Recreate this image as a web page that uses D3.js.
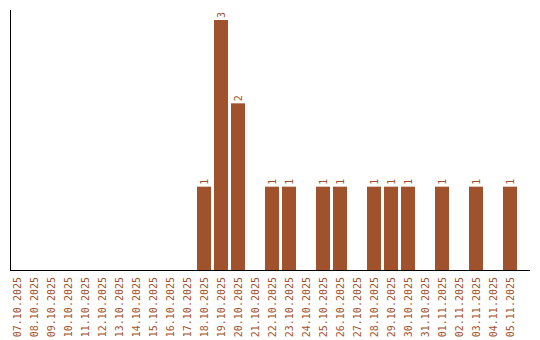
<!DOCTYPE html>
<html>
<head>
<meta charset="utf-8">
<script src="https://cdn.jsdelivr.net/npm/d3@7"></script>
<style>
  body { margin: 0; background: #fff; }
  text { font-family: "DejaVu Sans Mono", monospace; font-size: 10px; fill: #a0522d; }
</style>
</head>
<body>
<div id="chart"></div>
<script>
let dates = ["07.10.2025", "08.10.2025", "09.10.2025", "10.10.2025", "11.10.2025", "12.10.2025",
    "13.10.2025", "14.10.2025", "15.10.2025", "16.10.2025", "17.10.2025", "18.10.2025",
    "19.10.2025", "20.10.2025", "21.10.2025", "22.10.2025", "23.10.2025", "24.10.2025",
    "25.10.2025", "26.10.2025", "27.10.2025", "28.10.2025", "29.10.2025", "30.10.2025",
    "31.10.2025", "01.11.2025", "02.11.2025", "03.11.2025", "04.11.2025", "05.11.2025"];
let counts = [0, 0, 0, 0, 0, 0, 0, 0, 0, 0, 0, 1, 3, 2, 0, 1, 1, 0, 1, 1, 0, 1, 1, 1, 0, 1, 0, 1, 0, 1];

var svg = d3.select('#chart')
    .append('svg')
    .attr('width', 540)
    .attr('height', 340);

let x = d3.scaleBand()
    .domain(dates)
    .range([10, 517])
    .paddingInner(3 / 17)
    .paddingOuter(0);

let y = d3.scaleLinear()
    .domain([0, 3])
    .range([270, 20]);

let data = dates.map(function (d, i) { return { date: d, value: counts[i] }; });

svg.append('g')
    .selectAll('rect')
    .data(data.filter(function (d) { return d.value > 0; }))
    .enter()
    .append('rect')
    .attr('x', function (d) { return x(d.date); })
    .attr('y', function (d) { return y(d.value); })
    .attr('width', x.bandwidth())
    .attr('height', function (d) { return y(0) - y(d.value); })
    .attr('fill', '#a0522d');

// value labels above bars
svg.append('g')
    .selectAll('text')
    .data(data.filter(function (d) { return d.value > 0; }))
    .enter()
    .append('text')
    .attr('transform', function (d) {
        return 'translate(' + (x(d.date) + x.bandwidth() / 2 + 3.5) + ',' + (y(d.value) - 2) + ') rotate(-90)';
    })
    .attr('text-anchor', 'start')
    .text(function (d) { return d.value; });

// axes
svg.append('line')
    .attr('x1', 10.5).attr('x2', 10.5)
    .attr('y1', 10).attr('y2', 270)
    .attr('stroke', '#000');
svg.append('line')
    .attr('x1', 10).attr('x2', 530)
    .attr('y1', 270.5).attr('y2', 270.5)
    .attr('stroke', '#000');

// date labels
svg.append('g')
    .selectAll('text')
    .data(dates)
    .enter()
    .append('text')
    .attr('transform', function (d) {
        return 'translate(' + (x(d) + x.bandwidth() / 2 + 3.5) + ',277) rotate(-90)';
    })
    .attr('text-anchor', 'end')
    .text(function (d) { return d; });
</script>
</body>
</html>
